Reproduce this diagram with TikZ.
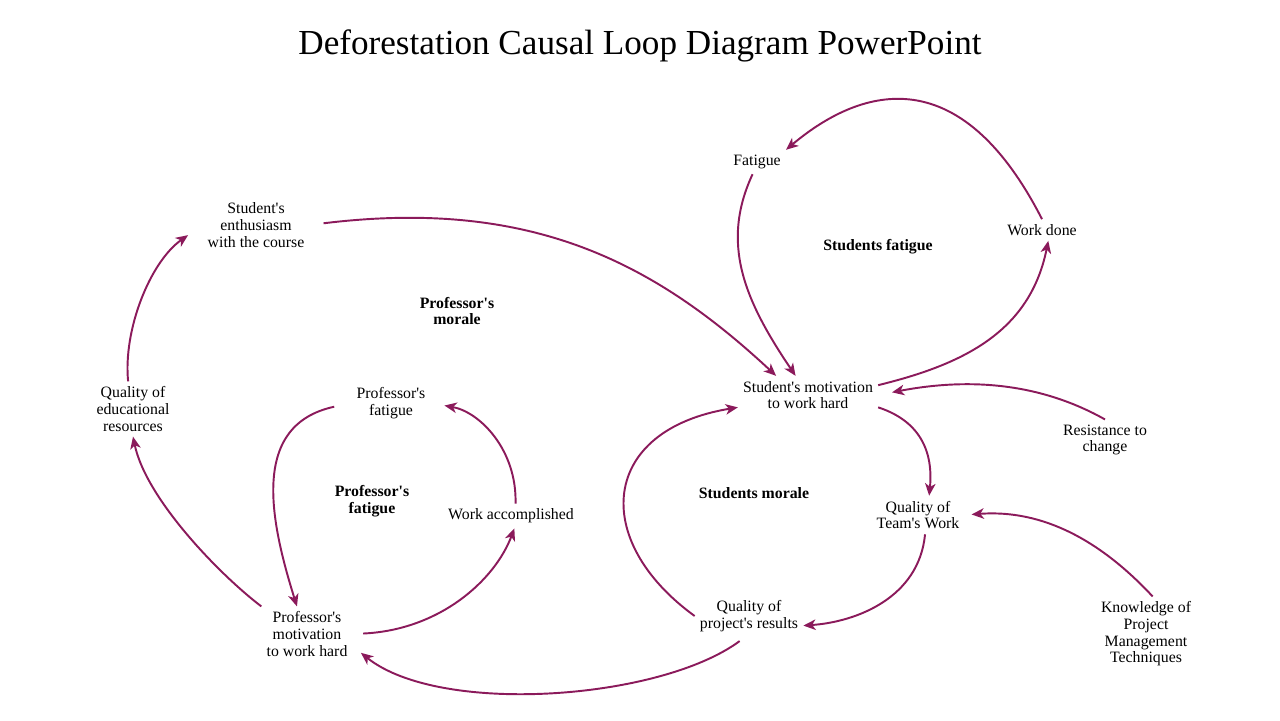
\documentclass[tikz,border=0pt]{standalone}
\usepackage{fontspec}
\setmainfont{Liberation Serif}[Ligatures=TeXOff]
\definecolor{cldpurple}{RGB}{139,26,91}
\usetikzlibrary{arrows.meta}

\begin{document}
\begin{tikzpicture}[x=0.02cm, y=-0.02cm,
    lbl/.style={align=center, font=\fontsize{9}{9.5}\selectfont, inner sep=2pt, outer sep=1pt},
    loop/.style={align=center, font=\fontsize{9}{9.5}\selectfont\bfseries},
    arr/.style={-{Stealth[length=7pt, width=6pt, inset=2pt]}, cldpurple, line width=1.1pt}
]
    \useasboundingbox (0,0) rectangle (1280,720);
    \node[font=\fontsize{20}{24}\selectfont] (title) at (640,46) {Deforestation Causal Loop Diagram PowerPoint};

    % factors
    \node[lbl] (fatigue) at (757,162) {Fatigue};
    \node[lbl] (wdone) at (1042,230) {Work done};
    \node[lbl] (enth) at (256,225) {Student's\\enthusiasm\\with the course};
    \node[lbl] (qedu) at (133,409) {Quality of\\educational\\resources};
    \node[lbl] (pfat) at (391,403) {Professor's\\fatigue};
    \node[lbl] (smot) at (808,395) {Student's motivation\\to work hard};
    \node[lbl] (resist) at (1105,440) {Resistance to\\change};
    \node[lbl] (waccom) at (511,516) {Work accomplished};
    \node[lbl] (qteam) at (918,515) {Quality of\\Team's Work};
    \node[lbl] (pmot) at (307,634) {Professor's\\motivation\\to work hard};
    \node[lbl] (qproj) at (749,616) {Quality of\\project's results};
    \node[lbl] (know) at (1146,634) {Knowledge of\\Project\\Management\\Techniques};

    % loop names
    \node[loop] (lsfat) at (878,247) {Students fatigue};
    \node[loop] (lpmor) at (457,311) {Professor's\\morale};
    \node[loop] (lpfat) at (372,501) {Professor's\\fatigue};
    \node[loop] (lsmor) at (754,493) {Students morale};

    % links
    \draw[arr] (wdone.north) .. controls (954,47) and (850,96) .. (fatigue.north east);
    \draw[arr] (fatigue.250) .. controls (720,244) and (745,301) .. (smot.123);
    \draw[arr, shorten <=8pt] (enth.east) .. controls (530,198) and (654,262) .. (smot.149);
    \draw[arr] (smot.8) .. controls (965,364) and (1030,331) .. (wdone.-60);
    \draw[arr, shorten >=8pt] (resist.north) .. controls (1042,384) and (972,377) .. (smot.east);
    \draw[arr] (smot.-10) .. controls (914,419) and (934,445) .. (qteam.60);
    \draw[arr, shorten >=4pt] (know.80) .. controls (1102,542) and (1044,509) .. (qteam.east);
    \draw[arr] (qteam.-70) .. controls (919,598) and (856,622) .. (qproj.-10);
    \draw[arr] (qproj.west) .. controls (590,540) and (600,430) .. (smot.190);
    \draw[arr, shorten <=4pt, shorten >=6pt] (qproj.-100) .. controls (660,700) and (440,716) .. (pmot.-15);
    \draw[arr, shorten <=6pt] (pmot.east) .. controls (440,630) and (495,580) .. (waccom.-75);
    \draw[arr, shorten >=8pt] (waccom.70) .. controls (517,450) and (480,412) .. (pfat.east);
    \draw[arr, shorten <=10pt] (pfat.west) .. controls (250,425) and (270,520) .. (pmot.110);
    \draw[arr] (pmot.north west) .. controls (220,575) and (146,499) .. (qedu.south);
    \draw[arr, shorten >=10pt] (qedu.100) .. controls (123,330) and (150,262) .. (enth.west);
\end{tikzpicture}
\end{document}
